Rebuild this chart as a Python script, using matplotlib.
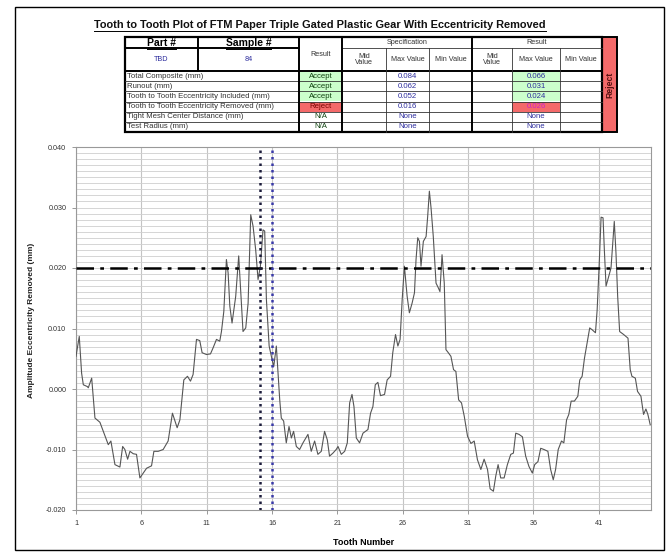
import matplotlib
matplotlib.use("Agg")
import matplotlib.pyplot as plt
from matplotlib.patches import Rectangle
from matplotlib.ticker import MultipleLocator, FormatStrFormatter

plt.rcParams['font.family'] = ['Liberation Sans', 'DejaVu Sans']

# curve (tooth number, amplitude in mm)
tooth = [1.00, 1.25, 1.43, 1.56, 1.87, 1.94, 2.20, 2.45, 2.83, 3.09, 3.47, 3.67, 3.98, 4.36,
         4.57, 4.74, 4.95, 5.13, 5.38, 5.63, 5.89, 6.14, 6.40, 6.78, 6.96, 7.29, 7.67, 8.05,
         8.38, 8.74, 8.95, 9.25, 9.53, 9.76, 9.96, 10.22, 10.47, 10.65, 10.98, 11.29, 11.49,
         11.75, 12.00, 12.13, 12.31, 12.51, 12.64, 12.77, 12.94, 13.22, 13.45, 13.60, 13.78,
         13.99, 14.17, 14.37, 14.55, 14.75, 14.93, 15.11, 15.31, 15.44, 15.57, 15.78, 15.95,
         16.13, 16.33, 16.59, 16.71, 16.89, 17.09, 17.30, 17.48, 17.65, 17.86, 18.11, 18.37,
         18.75, 19.00, 19.26, 19.51, 19.77, 20.02, 20.23, 20.40, 20.66, 20.91,
         21.05, 21.30, 21.56, 21.76, 21.94, 22.12, 22.27, 22.45, 22.70, 22.96, 23.34, 23.54,
         23.72, 23.90, 24.10, 24.30, 24.61, 24.81, 25.07, 25.24, 25.45, 25.63, 25.80, 25.96,
         26.13, 26.34, 26.51, 26.72, 26.90, 27.02, 27.15, 27.28, 27.40, 27.58, 27.79, 27.91,
         28.04, 28.17, 28.34, 28.55, 28.73, 28.85, 29.01, 29.18, 29.31, 29.49, 29.69, 29.89,
         30.07, 30.28, 30.50, 30.71, 30.96, 31.22, 31.47, 31.72, 31.98, 32.23, 32.49, 32.69,
         32.94, 33.12, 33.30, 33.50, 33.76, 34.01, 34.27, 34.47, 34.65, 34.90, 35.16, 35.41,
         35.66, 35.92, 36.10, 36.35, 36.56, 36.81, 37.11, 37.32, 37.52, 37.70, 37.90, 38.15,
         38.33, 38.54, 38.71, 38.89, 39.14, 39.40, 39.55, 39.73, 39.91, 40.11, 40.31, 40.49,
         40.75, 40.88, 41.03, 41.18, 41.33, 41.43, 41.56, 41.76, 41.94, 42.09, 42.19, 42.32,
         42.45, 42.60, 42.91, 43.24, 43.41, 43.54, 43.80, 43.97, 44.23, 44.43, 44.61, 44.76,
         44.94]
amplitude = [0.0054, 0.0087, 0.0026, 0.0007, 0.0004, 0.0002, 0.0018, -0.0048, -0.0055, -0.0070,
             -0.0092, -0.0086, -0.0125, -0.0129, -0.0095, -0.0100, -0.0116, -0.0103, -0.0107,
             -0.0108, -0.0147, -0.0139, -0.0131, -0.0127, -0.0103, -0.0103, -0.0100, -0.0086,
             -0.0040, -0.0064, -0.0051, 0.0015, 0.0021, 0.0013, 0.0024, 0.0082, 0.0080, 0.0060,
             0.0057, 0.0058, 0.0068, 0.0082, 0.0079, 0.0095, 0.0128, 0.0214, 0.0192, 0.0137,
             0.0109, 0.0153, 0.0220, 0.0164, 0.0095, 0.0101, 0.0142, 0.0288, 0.0269, 0.0230,
             0.0181, 0.0203, 0.0263, 0.0261, 0.0148, 0.0071, 0.0054, 0.0037, 0.0071, -0.0018,
             -0.0048, -0.0053, -0.0089, -0.0062, -0.0081, -0.0070, -0.0095, -0.0100, -0.0089,
             -0.0075, -0.0103, -0.0086, -0.0108, -0.0103, -0.0070, -0.0084, -0.0111, -0.0106,
             -0.0100,
             -0.0095, -0.0108, -0.0103, -0.0089, -0.0023, -0.0009, -0.0029, -0.0081, -0.0089,
             -0.0073, -0.0067, -0.0040, -0.0029, 0.0007, 0.0011, -0.0011, -0.0009, 0.0015,
             0.0021, 0.0060, 0.0090, 0.0071, 0.0082, 0.0148, 0.0203, 0.0153, 0.0126, 0.0142,
             0.0159, 0.0214, 0.0250, 0.0244, 0.0203, 0.0244, 0.0252, 0.0285, 0.0327, 0.0299,
             0.0252, 0.0175, 0.0167, 0.0161, 0.0222, 0.0175, 0.0065, 0.0060, 0.0054, 0.0032,
             0.0029, -0.0018, -0.0023, -0.0045, -0.0078, -0.0090, -0.0086, -0.0117, -0.0133,
             -0.0116, -0.0133, -0.0165, -0.0169, -0.0144, -0.0125, -0.0147, -0.0147, -0.0125,
             -0.0108, -0.0106, -0.0073, -0.0075, -0.0079, -0.0111, -0.0128, -0.0139, -0.0125,
             -0.0120, -0.0098, -0.0100, -0.0103, -0.0133, -0.0150, -0.0133, -0.0100, -0.0086,
             -0.0089, -0.0051, -0.0042, -0.0020, -0.0020, -0.0012, 0.0015, 0.0021, 0.0051,
             0.0076, 0.0101, 0.0098, 0.0093, 0.0131, 0.0203, 0.0284, 0.0283, 0.0230, 0.0170,
             0.0186, 0.0200, 0.0247, 0.0277, 0.0225, 0.0153, 0.0095, 0.0090, 0.0084, 0.0032,
             0.0021, 0.0018, -0.0004, -0.0012, -0.0042, -0.0033, -0.0042, -0.0059]

limit = 0.020
window = [15.1, 16.0]
x_ticks = [1, 6, 11, 16, 21, 26, 31, 36, 41]
y_ticks = [-0.020, -0.010, 0.000, 0.010, 0.020, 0.030, 0.040]

# table contents
title = "Tooth to Tooth Plot of FTM Paper Triple Gated Plastic Gear With Eccentricity Removed"
part_no = "TBD"
sample_no = "84"
row_labels = ["Total Composite (mm)", "Runout (mm)", "Tooth to Tooth Eccentricity Included (mm)",
              "Tooth to Tooth Eccentricity Removed (mm)", "Tight Mesh Center Distance (mm)",
              "Test Radius (mm)"]
row_results = ["Accept", "Accept", "Accept", "Reject", "N/A", "N/A"]
spec_max = ["0.084", "0.062", "0.052", "0.016", "None", "None"]
result_max = ["0.066", "0.031", "0.024", "0.026", "None", "None"]
overall = "Reject"

GREEN = '#ccffcc'
RED = '#f46a6a'
BLUE = '#2e2e9e'

fig = plt.figure(figsize=(6.69, 5.52), dpi=100)

# overlay in pixel units for frame + table
ov = fig.add_axes([0, 0, 1, 1])
ov.set_xlim(0, 669)
ov.set_ylim(552, 0)
ov.axis('off')
ov.add_patch(Rectangle((15, 7), 649, 543, fill=False, ec='black', lw=1.0))

t = ov.text(320, 25, title, fontsize=7.9, fontweight='bold', ha='center', va='center', color='#111111')

# table geometry
x0, xps, xsr, xrs, xsm1, xsm2, xsres, xrm1, xrm2, xend, xrej = 125, 198, 299, 342, 386, 429, 472, 512, 560, 602, 617
y0, y1, y2, yend = 37, 48, 71, 132
rh = (yend - y2) / len(row_labels)

def row_y(i):
    return y2 + i * rh

# fills
for i, res in enumerate(row_results):
    if res in ("Accept", "Reject"):
        c = GREEN if res == "Accept" else RED
        ov.add_patch(Rectangle((xsr, row_y(i)), xrs - xsr, rh, fc=c, ec='none'))
        ov.add_patch(Rectangle((xrm1, row_y(i)), xrm2 - xrm1, rh, fc=c, ec='none'))
ov.add_patch(Rectangle((xend, y0), xrej - xend, yend - y0, fc=RED, ec='black', lw=1.4))

thin = dict(color='#333333', lw=0.6)
thick = dict(color='black', lw=1.4)
for i in range(1, len(row_labels)):
    ov.plot([x0, xend], [row_y(i)] * 2, **thin)
ov.plot([x0, xsr], [y1, y1], **thick)
ov.plot([xrs, xend], [y1, y1], **thin)
ov.plot([x0, xend], [y2, y2], **thick)
ov.plot([xps, xps], [y0, y2], **thick)
for xv in (xsm1, xsm2, xrm1, xrm2):
    ov.plot([xv, xv], [y1, yend], **thin)
for xv in (xsr, xrs, xsres):
    ov.plot([xv, xv], [y0, yend], **thick)
ov.add_patch(Rectangle((x0, y0), xend - x0, yend - y0, fill=False, ec='black', lw=1.6))

hdr = dict(fontsize=5.2, ha='center', va='center', color='#333333')
tp = ov.text((x0 + xps) / 2, (y0 + y1) / 2 + 0.5, "Part #", fontsize=7.5, fontweight='bold', ha='center', va='center')
ts = ov.text((xps + xsr) / 2, (y0 + y1) / 2 + 0.5, "Sample #", fontsize=7.5, fontweight='bold', ha='center', va='center')
ov.text((x0 + xps) / 2, (y1 + y2) / 2, part_no, fontsize=5.2, ha='center', va='center', color=BLUE)
ov.text((xps + xsr) / 2, (y1 + y2) / 2, sample_no, fontsize=5.2, ha='center', va='center', color=BLUE)
ov.text((xsr + xrs) / 2, (y0 + y2) / 2, "Result", **hdr)
ov.text((xrs + xsres) / 2, (y0 + y1) / 2, "Specification", **hdr)
ov.text((xsres + xend) / 2, (y0 + y1) / 2, "Result", **hdr)
for a, b, lab in [(xrs, xsm1, "Mid\nValue"), (xsm1, xsm2, "Max Value"), (xsm2, xsres, "Min Value"),
                  (xsres, xrm1, "Mid\nValue"), (xrm1, xrm2, "Max Value"), (xrm2, xend, "Min Value")]:
    ov.text((a + b) / 2, (y1 + y2) / 2, lab, linespacing=1.0, **hdr)
ov.text((xend + xrej) / 2, (y0 + yend) / 2, overall, rotation=90, fontsize=6.2, fontweight='bold',
        ha='center', va='center', color='#551111')

for i, lab in enumerate(row_labels):
    yc = row_y(i) + rh / 2
    ov.text(x0 + 2, yc, lab, fontsize=5.6, ha='left', va='center', color='#333333')
    ov.text((xsr + xrs) / 2, yc, row_results[i], fontsize=5.6, ha='center', va='center',
            color='#7a0000' if row_results[i] == "Reject" else '#114411')
    ov.text((xsm1 + xsm2) / 2, yc, spec_max[i], fontsize=5.6, ha='center', va='center', color=BLUE)
    rc = '#cc22cc' if row_results[i] == "Reject" else BLUE
    ov.text((xrm1 + xrm2) / 2, yc, result_max[i], fontsize=5.6, ha='center', va='center', color=rc)

# chart
ax = fig.add_axes([76 / 669, 1 - 510 / 552, (651 - 76) / 669, (510 - 147) / 552])
ax.plot(tooth, amplitude, color='#555555', lw=0.8, zorder=3)
ax.axhline(limit, color='black', lw=1.8, linestyle=(0, (7, 2.5, 1.5, 2.5)), zorder=4)
ax.axvline(window[0], color='#1b1b3a', lw=1.8, linestyle=(0, (1, 1.6)), zorder=4)
ax.axvline(window[1], color='#3a3aa8', lw=1.8, linestyle=(0, (1, 1.6)), zorder=4)
ax.set_xlim(1, 45)
ax.set_ylim(-0.020, 0.040)
ax.set_xticks(x_ticks)
ax.set_yticks(y_ticks)
ax.yaxis.set_minor_locator(MultipleLocator(0.001))
ax.yaxis.set_major_formatter(FormatStrFormatter('%.3f'))
ax.grid(which='major', axis='x', color='#c4c4c4', lw=0.8)
ax.grid(which='both', axis='y', color='#cfcfcf', lw=0.6)
ax.set_axisbelow(True)
ax.tick_params(which='minor', length=0)
ax.tick_params(which='major', length=3, width=0.6, color='#888888', labelsize=5.2, labelcolor='#333333', pad=4)
for s in ax.spines.values():
    s.set_color('#999999')
    s.set_linewidth(0.8)
ax.set_xlabel("Tooth Number", fontsize=6.5, fontweight='bold', labelpad=8)
fig.text(32 / 669, 1 - 320 / 552, "Amplitude Eccentricity Removed (mm)", rotation=90, fontsize=6,
         fontweight='bold', ha='center', va='center', color='#222222')

# underline the bold headings
fig.canvas.draw()
r = fig.canvas.get_renderer()
for txt in (t, tp, ts):
    bb = txt.get_window_extent(renderer=r)
    yl = 552 - bb.y0 + 0.5
    ov.plot([bb.x0, bb.x1], [yl, yl], color='black', lw=0.7)

fig.savefig("out.png", dpi=100)
